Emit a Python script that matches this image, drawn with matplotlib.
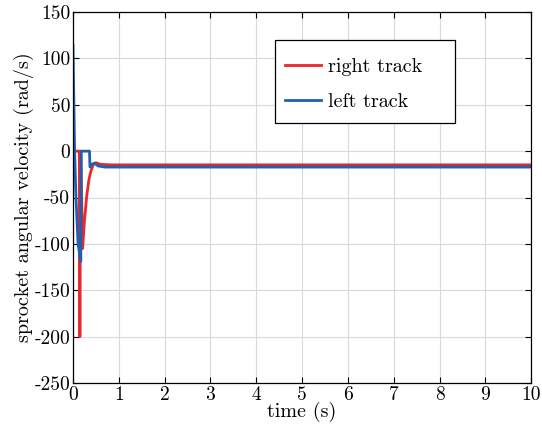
import matplotlib
matplotlib.use("Agg")
import matplotlib.pyplot as plt
from matplotlib.patches import Rectangle

plt.rcParams['font.family'] = 'serif'
plt.rcParams['font.serif'] = ['cmr10', 'DejaVu Serif']
plt.rcParams['mathtext.fontset'] = 'cm'
plt.rcParams['axes.unicode_minus'] = False
plt.rcParams['axes.formatter.use_mathtext'] = False

# data
right_t = [0, 0.14, 0.15, 0.16, 0.17, 0.21, 0.25, 0.30, 0.35, 0.40, 0.45, 0.50, 0.60, 0.80, 10]
right_v = [0, 0, -200, 0, 0, -105, -75, -48, -30, -20, -14, -12.5, -14.2, -14.8, -14.8]
left_t = [0, 0.02, 0.035, 0.065, 0.11, 0.17, 0.18, 0.36, 0.37, 0.42, 0.47, 0.55, 0.70, 10]
left_v = [114, 50, 0, -50, -100, -119, 0, 0, -17, -14, -13, -16, -17.2, -17.2]
xticks = list(range(0, 11))
yticks = list(range(-250, 151, 50))

fig = plt.figure(figsize=(5.42, 4.32), dpi=100)
ax = fig.add_axes([0.1347, 0.1134, 0.98 - 0.1347, 0.9722 - 0.1134])
ax.plot(right_t, right_v, color='#e8282c', lw=2.0, label='right track')
ax.plot(left_t, left_v, color='#2160ae', lw=2.0, label='left track')
ax.set_xlim(0, 10)
ax.set_ylim(-250, 150)
ax.set_xticks(xticks)
ax.set_yticks(yticks)
ax.set_xticklabels([str(v) for v in xticks])
ax.set_yticklabels([str(v) for v in yticks])
ax.grid(True, color='#d9d9d9', lw=0.8)
ax.set_axisbelow(True)
ax.tick_params(direction='in', top=True, right=True, labelsize=14, length=4, pad=2)
ax.set_xlabel('time (s)', fontsize=14.5, labelpad=-1)
ax.set_ylabel('sprocket angular velocity (rad/s)', fontsize=14.5, labelpad=0)
for s in ax.spines.values():
    s.set_linewidth(0.9)

ax.add_patch(Rectangle((0.441, 0.701), 0.834 - 0.441, 0.9245 - 0.701,
                       transform=ax.transAxes, facecolor='white', edgecolor='black',
                       lw=0.9, zorder=4))
leg = ax.legend(loc='upper left', bbox_to_anchor=(0.463, 0.876), fontsize=14.5,
                frameon=False, borderpad=0, borderaxespad=0,
                labelspacing=0.85, handlelength=1.8, handletextpad=0.35)
leg.set_zorder(5)
fig.savefig('out.png', dpi=100)
